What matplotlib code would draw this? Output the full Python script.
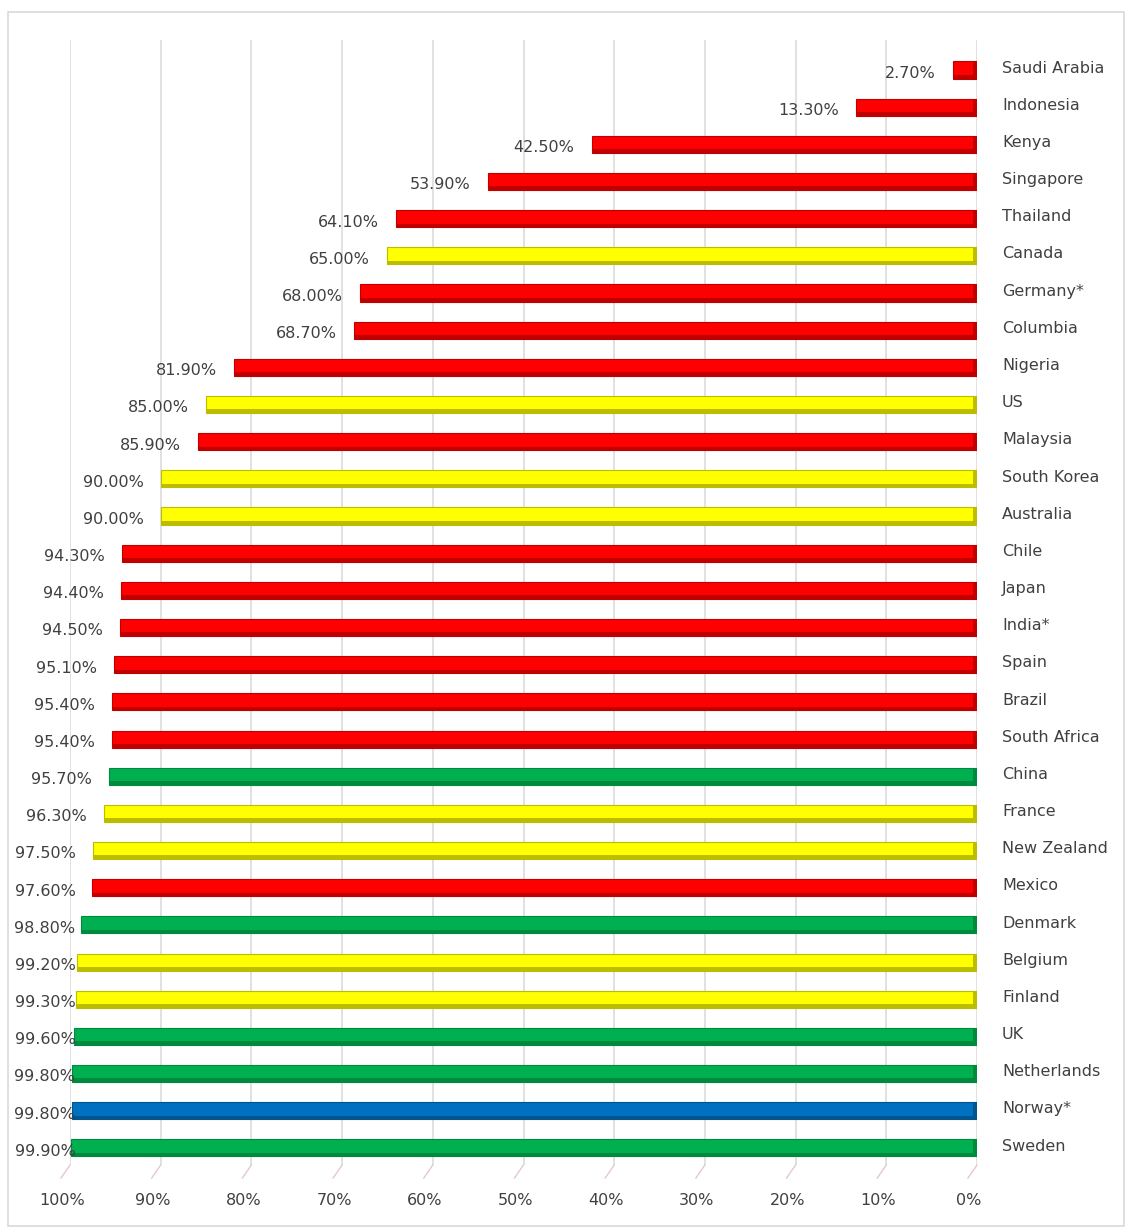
import matplotlib
matplotlib.use("Agg")
import matplotlib.pyplot as plt
import matplotlib.transforms as mtransforms
from matplotlib.patches import Rectangle
from matplotlib.lines import Line2D

countries = ["Saudi Arabia", "Indonesia", "Kenya", "Singapore", "Thailand", "Canada",
             "Germany*", "Columbia", "Nigeria", "US", "Malaysia", "South Korea",
             "Australia", "Chile", "Japan", "India*", "Spain", "Brazil", "South Africa",
             "China", "France", "New Zealand", "Mexico", "Denmark", "Belgium", "Finland",
             "UK", "Netherlands", "Norway*", "Sweden"]
values = [2.7, 13.3, 42.5, 53.9, 64.1, 65.0, 68.0, 68.7, 81.9, 85.0, 85.9, 90.0,
          90.0, 94.3, 94.4, 94.5, 95.1, 95.4, 95.4, 95.7, 96.3, 97.5, 97.6, 98.8,
          99.2, 99.3, 99.6, 99.8, 99.8, 99.9]
groups = ["r", "r", "r", "r", "r", "y", "r", "r", "r", "y", "r", "y", "y", "r", "r",
          "r", "r", "r", "r", "g", "y", "y", "r", "g", "y", "y", "g", "g", "b", "g"]
xticks = [100, 90, 80, 70, 60, 50, 40, 30, 20, 10, 0]

face = {"r": "#FF0000", "y": "#FFFF00", "g": "#00B050", "b": "#0070C0"}
dark = {"r": "#C00000", "y": "#BDBD00", "g": "#008A3E", "b": "#00558F"}

W, H = 1127, 1229
fig = plt.figure(figsize=(W / 100, H / 100), dpi=100)
fig.patch.set_facecolor("white")

# chart area border
fig.add_artist(Rectangle((8 / W, 1 - 1226 / H), 1116 / W, 1214 / H,
                         transform=fig.transFigure, fill=False,
                         edgecolor="#D9D9D9", linewidth=1.2))

left, right = 70 / W, 977 / W
top, bottom = 1 - 40 / H, 1 - 1165 / H
ax = fig.add_axes([left, bottom, right - left, top - bottom])

row = 37.17
ax.set_xlim(100, 0)
ax.set_ylim((1165 - 70) / row, (40 - 70) / row)

ys = list(range(len(countries)))
h = 0.46
for y, v, g in zip(ys, values, groups):
    ax.barh(y, v, height=h, color=face[g], edgecolor=dark[g], linewidth=0.8, zorder=3)
    # darker lower rim for the cylinder look
    ax.barh(y + h / 2 - 0.05, v, height=0.10, color=dark[g], linewidth=0, zorder=4)
    # end cap at the 0% side
    ax.barh(y, 0.45, height=h, color=dark[g], linewidth=0, zorder=4)

# value labels, kept inside the chart area
for y, v in zip(ys, values):
    xt = min(v + 1.9, 99.4)
    ax.text(xt, y + 0.09, f"{v:.2f}%", ha="right", va="center",
            fontsize=11.5, color="#404040", zorder=5)

# country labels on the right
for y, c in zip(ys, countries):
    ax.text(-2.75, y - 0.05, c, ha="left", va="center", fontsize=11.5,
            color="#404040", clip_on=False)

ax.set_xticks(xticks)
ax.set_xticklabels([f"{t}%" for t in xticks], fontsize=11.5, color="#404040")
ax.tick_params(axis="x", length=0, pad=20)
shift = mtransforms.ScaledTranslation(-0.08, 0, fig.dpi_scale_trans)
for lab in ax.get_xticklabels():
    lab.set_transform(lab.get_transform() + shift)
ax.set_yticks([])
ax.grid(axis="x", color="#D9D9D9", linewidth=1.1, zorder=0)
for s in ax.spines.values():
    s.set_visible(False)

# little perspective floor ticks under the gridlines
for t in xticks:
    px = 977 - t * 9.07
    fig.add_artist(Line2D([px / W, (px - 9) / W], [1 - 1165 / H, 1 - 1178 / H],
                          transform=fig.transFigure, color="#E3C9C9", linewidth=1))

fig.savefig("out.png", dpi=100, facecolor="white")
